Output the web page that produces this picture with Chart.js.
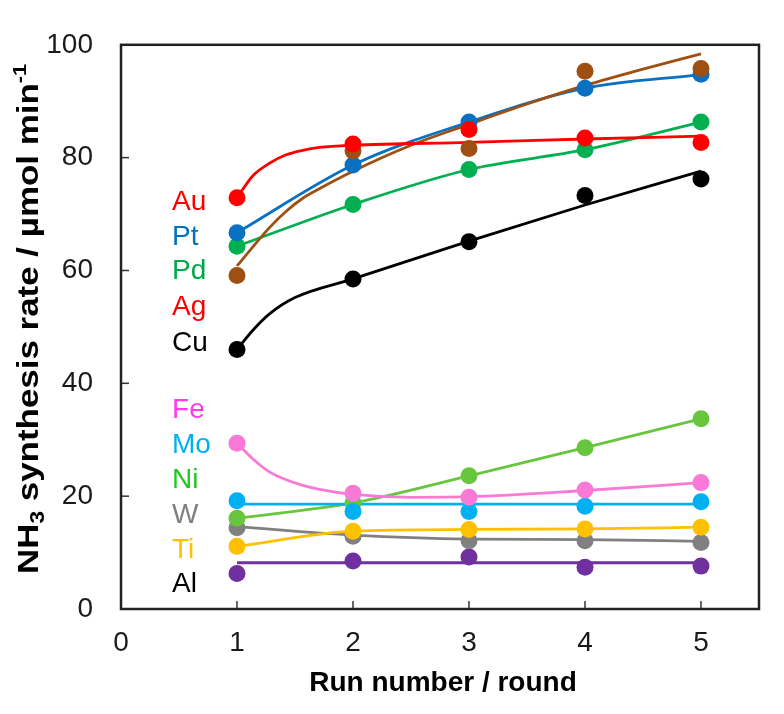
<!DOCTYPE html>
<html><head><meta charset="utf-8">
<script src="https://cdn.jsdelivr.net/npm/chart.js@4.4.0/dist/chart.umd.min.js"></script>
<style>html,body{margin:0;padding:0;background:#fff}</style>
</head><body>
<canvas id="c" width="784" height="714"></canvas>
<script>
// ---------- data ----------
const runs = [1, 2, 3, 4, 5];
const xTickValues = [0, 1, 2, 3, 4, 5];
const yTickValues = [0, 20, 40, 60, 80, 100];

const auRate = [72.9, 82.4, 85.0, 83.5, 82.7];
const ptRate = [66.7, 78.7, 86.3, 92.3, 94.8];
const pdRate = [64.3, 71.7, 77.9, 81.4, 86.3];
const agRate = [59.1, 81.2, 81.6, 95.3, 95.8];
const cuRate = [46.0, 58.5, 65.1, 73.3, 76.2];
const feRate = [29.4, 20.5, 19.8, 21.1, 22.4];
const moRate = [19.2, 17.3, 17.3, 18.2, 19.0];
const niRate = [16.1, 18.8, 23.6, 28.6, 33.7];
const wRate  = [14.4, 12.9, 12.1, 12.1, 11.8];
const tiRate = [11.1, 13.8, 14.1, 14.2, 14.5];
const alRate = [6.3, 8.5, 9.2, 7.4, 7.6];

// fitted curves (sampled from the drawn curves)
const auFitX = [1, 1.137, 1.28, 1.424, 1.567, 1.71, 2, 3, 4, 5];
const auFitY = [72.9, 76.8, 79.0, 80.5, 81.3, 81.8, 82.2, 82.7, 83.3, 83.8];
const ptFitX = [1, 2, 3, 4, 5];
const ptFitY = [66.7, 78.7, 86.3, 92.3, 94.7];
const pdFitX = [1, 2, 3, 4, 5];
const pdFitY = [64.3, 71.7, 77.9, 81.4, 86.3];
const agFitX = [1, 1.137, 1.28, 1.424, 1.567, 1.71, 2, 2.5, 3, 3.5, 4, 4.5, 5];
const agFitY = [60.8, 64.2, 67.6, 70.5, 72.8, 74.5, 77.6, 82.2, 85.9, 89.5, 92.8, 95.7, 98.4];
const cuFitX = [1, 1.137, 1.28, 1.5, 2, 3, 4, 5];
const cuFitY = [46.0, 49.4, 52.3, 55.2, 58.5, 65.2, 71.6, 77.6];
const feFitX = [1, 1.137, 1.28, 1.424, 1.567, 1.71, 2, 2.5, 3, 4, 5];
const feFitY = [29.4, 26.6, 24.3, 22.9, 21.9, 21.2, 20.3, 19.8, 19.9, 21.0, 22.4];
const moFitX = [1, 5];
const moFitY = [18.6, 18.6];
const niFitX = [1, 2, 3, 4, 5];
const niFitY = [16.1, 18.8, 23.6, 28.6, 33.7];
const wFitX  = [1, 2, 3, 4, 5];
const wFitY  = [14.6, 13.1, 12.4, 12.3, 12.0];
const tiFitX = [1, 2, 3, 4, 5];
const tiFitY = [11.1, 13.8, 14.1, 14.2, 14.5];
const alFitX = [1, 5];
const alFitY = [8.2, 8.2];

const metalNames = ['Au', 'Pt', 'Pd', 'Ag', 'Cu', 'Fe', 'Mo', 'Ni', 'W', 'Ti', 'Al'];
const labelAnchorX = 0.44;
const labelAnchorY = [72.5, 66.3, 60.2, 53.8, 47.5, 35.7, 29.4, 23.2, 17.1, 10.9, 4.8];

const xTitle = 'Run number / round';

// ---------- styles ----------
const FONT = '"Liberation Sans", Arial, Helvetica, sans-serif';
const labelColors = ['#FF0000', '#0070C0', '#00A848', '#FF0000', '#000000',
                     '#FF3CF0', '#00B0F0', '#22C622', '#808080', '#FFC000', '#000000'];

const series = [
  {rate: auRate, fx: auFitX, fy: auFitY, color: '#FF0000'},
  {rate: agRate, fx: agFitX, fy: agFitY, color: '#A04F12'},
  {rate: ptRate, fx: ptFitX, fy: ptFitY, color: '#0A70C2'},
  {rate: pdRate, fx: pdFitX, fy: pdFitY, color: '#00B050'},
  {rate: cuRate, fx: cuFitX, fy: cuFitY, color: '#000000'},
  {rate: feRate, fx: feFitX, fy: feFitY, color: '#F97AD6'},
  {rate: moRate, fx: moFitX, fy: moFitY, color: '#00B0F0'},
  {rate: niRate, fx: niFitX, fy: niFitY, color: '#68C63E'},
  {rate: tiRate, fx: tiFitX, fy: tiFitY, color: '#FFC000'},
  {rate: wRate,  fx: wFitX,  fy: wFitY,  color: '#808080'},
  {rate: alRate, fx: alFitX, fy: alFitY, color: '#7030A0'}
];

const datasets = [];
series.forEach(s => {
  datasets.push({
    data: runs.map((x, i) => ({x, y: s.rate[i]})),
    backgroundColor: s.color, borderColor: s.color, borderWidth: 0,
    pointRadius: 8.5, pointHoverRadius: 8.5, showLine: false, order: 0
  });
});
series.forEach(s => {
  datasets.push({
    data: s.fx.map((x, i) => ({x, y: s.fy[i]})),
    borderColor: s.color, backgroundColor: s.color, borderWidth: 2.8,
    pointRadius: 0, showLine: true, cubicInterpolationMode: 'monotone', order: 1
  });
});

const decor = {
  id: 'decor',
  afterDatasetsDraw(chart) {
    const {ctx, chartArea: a, scales: {x, y}} = chart;
    ctx.save();
    // inward ticks
    ctx.strokeStyle = '#333'; ctx.lineWidth = 1.5;
    yTickValues.slice(1, -1).forEach(v => {
      const py = y.getPixelForValue(v);
      ctx.beginPath(); ctx.moveTo(a.left, py); ctx.lineTo(a.left + 8, py); ctx.stroke();
    });
    xTickValues.slice(1).forEach(v => {
      const px = x.getPixelForValue(v);
      ctx.beginPath(); ctx.moveTo(px, a.bottom); ctx.lineTo(px, a.bottom - 8); ctx.stroke();
    });
    // frame
    ctx.strokeStyle = '#222'; ctx.lineWidth = 2.5;
    ctx.strokeRect(a.left, a.top, a.right - a.left, a.bottom - a.top);
    // metal labels
    ctx.font = '28px ' + FONT; ctx.textAlign = 'left'; ctx.textBaseline = 'alphabetic';
    metalNames.forEach((n, i) => {
      ctx.fillStyle = labelColors[i];
      ctx.fillText(n, x.getPixelForValue(labelAnchorX), y.getPixelForValue(labelAnchorY[i]) + 10);
    });
    // x title
    ctx.fillStyle = '#000'; ctx.textAlign = 'center';
    ctx.font = 'bold 28px ' + FONT;
    ctx.fillText(xTitle, (a.left + a.right) / 2 + 3, 691);
    // y title with subscript/superscript
    const fs = 30;
    const parts = [
      {t: 'NH', s: 1, dy: 0},
      {t: '3', s: 0.65, dy: 0.2},
      {t: ' synthesis rate / µmol min', s: 1, dy: 0},
      {t: '-1', s: 0.62, dy: -0.4}
    ];
    let total = 0;
    parts.forEach(p => { ctx.font = 'bold ' + (fs * p.s) + 'px ' + FONT; p.w = ctx.measureText(p.t).width; total += p.w; });
    const sx = 510 / total;
    ctx.translate(38, 319); ctx.rotate(-Math.PI / 2); ctx.scale(sx, 1);
    ctx.textAlign = 'left';
    let cx = -total / 2;
    parts.forEach(p => {
      ctx.font = 'bold ' + (fs * p.s) + 'px ' + FONT;
      ctx.fillText(p.t, cx, p.dy * fs);
      cx += p.w;
    });
    ctx.restore();
  }
};

new Chart(document.getElementById('c'), {
  type: 'scatter',
  data: {datasets},
  options: {
    responsive: false, animation: false,
    layout: {padding: {top: 24, right: 25, left: 0, bottom: 0}},
    plugins: {legend: {display: false}, tooltip: {enabled: false}},
    scales: {
      x: {
        type: 'linear', min: 0, max: 5.5,
        afterBuildTicks: s => { s.ticks = xTickValues.map(v => ({value: v})); },
        afterFit: s => { s.height = 105; },
        grid: {display: false, drawTicks: false}, border: {display: false},
        ticks: {padding: 17, font: {family: FONT, size: 28}, color: '#1a1a1a', maxRotation: 0}
      },
      y: {
        type: 'linear', min: 0, max: 100,
        afterBuildTicks: s => { s.ticks = yTickValues.map(v => ({value: v})); },
        afterFit: s => { s.width = 121; },
        grid: {display: false, drawTicks: false}, border: {display: false},
        ticks: {padding: 28, font: {family: FONT, size: 28}, color: '#1a1a1a'}
      }
    }
  },
  plugins: [decor]
});
</script>
</body></html>
